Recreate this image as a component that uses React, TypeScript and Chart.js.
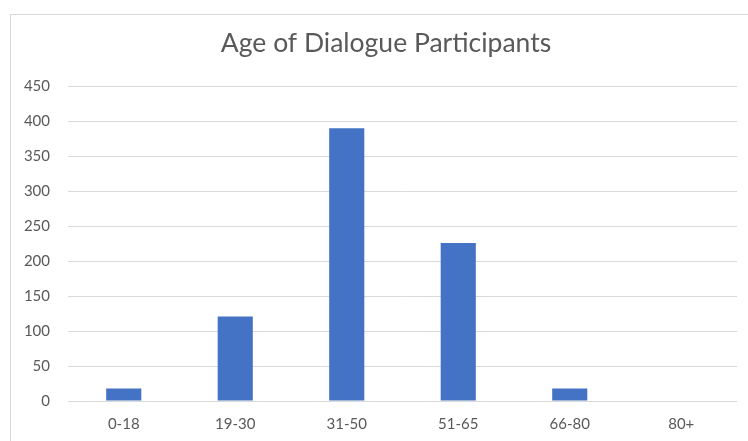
import React, { useEffect, useRef } from "react";
import { Chart, registerables } from "chart.js";

Chart.register(...registerables);

const categories = ["0-18", "19-30", "31-50", "51-65", "66-80", "80+"];
const participants = [18, 121, 390, 226, 18, 0];
const yTicks = [0, 50, 100, 150, 200, 250, 300, 350, 400, 450];
const titleText = "Age of Dialogue Participants";

const titleShift = {
  id: "titleShift",
  afterLayout(chart: any) {
    const tb = chart.titleBlock;
    if (tb) {
      tb.left = 24;
      tb.right = 748;
    }
  },
};

export default function App() {
  const ref = useRef<HTMLCanvasElement | null>(null);
  useEffect(() => {
    if (!ref.current) return;
    const chart = new Chart(ref.current, {
      type: "bar",
      data: {
        labels: categories,
        datasets: [
          {
            label: "Participants",
            data: participants,
            backgroundColor: "#4472C4",
            categoryPercentage: 1,
            barPercentage: 0.315,
          },
        ],
      },
      options: {
        responsive: false,
        animation: false,
        layout: { padding: { left: 0, right: 11, top: 0, bottom: 0 } },
        plugins: {
          legend: { display: false },
          tooltip: { enabled: false },
          title: {
            display: true,
            text: titleText,
            color: "#595959",
            font: { family: "Lato", size: 26.5, weight: "normal" },
            padding: { top: 28, bottom: 26.6 },
          },
        },
        scales: {
          x: {
            grid: { display: false, drawTicks: false },
            border: { display: false },
            ticks: {
              color: "#595959",
              font: { family: "Lato", size: 15 },
              padding: 14,
            },
            afterFit: (s: any) => {
              s.height = 40;
            },
          },
          y: {
            min: 0,
            max: 450,
            afterBuildTicks: (s: any) => {
              s.ticks = yTicks.map((v) => ({ value: v }));
            },
            grid: { color: "#d9d9d9", lineWidth: 1, drawTicks: false },
            border: { display: false },
            ticks: {
              color: "#595959",
              font: { family: "Lato", size: 15 },
              padding: 18,
            },
            afterFit: (s: any) => {
              s.width = 68;
            },
          },
        },
      },
      plugins: [titleShift],
    });
    return () => chart.destroy();
  }, []);
  return (
    <div style={{ position: "fixed", left: 0, top: 0, width: 748, height: 441, background: "#fff", overflow: "hidden" }}>
      <div
        style={{
          position: "absolute",
          left: 10,
          top: 14,
          width: 760,
          height: 440,
          borderLeft: "1px solid #d9d9d9",
          borderTop: "1px solid #d9d9d9",
        }}
      />
      <canvas ref={ref} width={748} height={441} style={{ position: "absolute", left: 0, top: 0 }} />
    </div>
  );
}
